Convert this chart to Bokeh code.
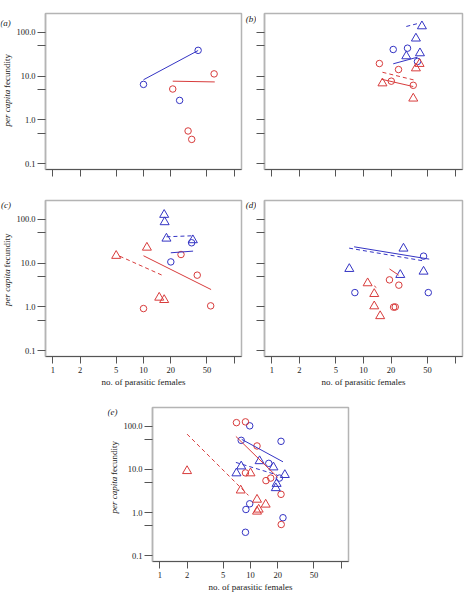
import math
from bokeh.plotting import figure
from bokeh.layouts import column, row
from bokeh.models import Spacer, FixedTicker, CustomJSTickFormatter, Range1d
from bokeh.core.properties import value
from bokeh.embed import file_html
from bokeh.resources import INLINE

# ---------------- data ----------------
XTICKS = [1, 2, 5, 10, 20, 50, 100]
XTICK_LABELS = ["1", "2", "5", "10", "20", "50", ""]
YTICKS = [0.1, 0.5, 1, 5, 10, 50, 100]
YTICK_LABELS = ["0.1", "", "1.0", "", "10.0", "", "100.0"]
X_LIMITS = [1, 100]
Y_LIMITS = [0.1, 200]
X_TITLE = "no. of parasitic females"
Y_TITLE_ITALIC = "per capita"
Y_TITLE_REST = "fecundity"

# panel (a)
A_BLUE_CIRC_X = [10, 40, 25]
A_BLUE_CIRC_Y = [6.5, 39, 2.8]
A_RED_CIRC_X = [21, 60, 31, 34]
A_RED_CIRC_Y = [5.1, 11.3, 0.56, 0.36]
A_BLUE_FIT_X = [10, 40]
A_BLUE_FIT_Y = [8.3, 38.7]
A_RED_FIT_X = [21, 61]
A_RED_FIT_Y = [7.7, 7.4]

# panel (b)
B_BLUE_TRI_X = [43.4, 37.3, 29.3, 41.3]
B_BLUE_TRI_Y = [139, 73, 28.7, 33.6]
B_BLUE_CIRC_X = [21.1, 30.2, 38.8]
B_BLUE_CIRC_Y = [40.8, 43.7, 21.7]
B_RED_CIRC_X = [14.9, 24.1, 20.1, 34.9]
B_RED_CIRC_Y = [19.5, 14.2, 7.7, 6.2]
B_RED_TRI_X = [16.1, 37.3, 40.9, 34.9]
B_RED_TRI_Y = [6.9, 15.2, 19.2, 3.1]
B_BLUE_DASH_X = [29.3, 38.3]
B_BLUE_DASH_Y = [137, 158]
B_BLUE_FIT_X = [21.1, 38.8]
B_BLUE_FIT_Y = [19.2, 27.2]
B_RED_DASH_X = [16.1, 37.3]
B_RED_DASH_Y = [12.3, 8.0]
B_RED_FIT_X = [15.8, 34.9]
B_RED_FIT_Y = [8.5, 5.8]

# panel (c)
C_BLUE_TRI_X = [16.9, 17.1, 17.9, 35]
C_BLUE_TRI_Y = [128, 87, 36.7, 33.7]
C_BLUE_CIRC_X = [20, 33.9]
C_BLUE_CIRC_Y = [10.7, 29.3]
C_RED_TRI_X = [5.0, 10.9, 14.9, 16.9]
C_RED_TRI_Y = [14.8, 22.8, 1.64, 1.45]
C_RED_CIRC_X = [10, 25.9, 39.1, 55]
C_RED_CIRC_Y = [0.92, 15.8, 5.33, 1.06]
C_BLUE_DASH_X = [17.9, 35.2]
C_BLUE_DASH_Y = [40.2, 42.4]
C_BLUE_FIT_X = [20, 35.2]
C_BLUE_FIT_Y = [17.3, 18.9]
C_RED_DASH_X = [5.46, 16.1]
C_RED_DASH_Y = [14.5, 5.3]
C_RED_FIT_X = [10, 55.6]
C_RED_FIT_Y = [14.8, 2.5]

# panel (d)
D_BLUE_TRI_X = [7.0, 27.3, 25.2, 45.2]
D_BLUE_TRI_Y = [7.43, 21.7, 5.42, 6.45]
D_BLUE_CIRC_X = [8.05, 45.2, 50.9]
D_BLUE_CIRC_Y = [2.13, 14.5, 2.13]
D_RED_TRI_X = [11.1, 13.1, 13.1, 15.2]
D_RED_TRI_Y = [3.5, 1.99, 1.04, 0.62]
D_RED_CIRC_X = [19.2, 24.3, 21.3, 22.2]
D_RED_CIRC_Y = [4.16, 3.15, 0.99, 1.0]
D_BLUE_FIT_X = [7.9, 52.1]
D_BLUE_FIT_Y = [23.7, 12.4]
D_BLUE_DASH_X = [6.97, 45.2]
D_BLUE_DASH_Y = [22.1, 11.3]
D_RED_FIT_X = [19.2, 24.2]
D_RED_FIT_Y = [7.4, 5.33]
D_RED_DASH_X = [13.1, 13.8]
D_RED_DASH_Y = [3.03, 2.77]

# panel (e)
E_RED_CIRC_X = [7.0, 8.8, 11.8, 8.8, 14.8, 16.7, 21.7, 21.8]
E_RED_CIRC_Y = [121, 126, 34.9, 8.3, 5.5, 6.3, 2.65, 0.53]
E_BLUE_CIRC_X = [9.8, 7.9, 21.7, 15.9, 20.8, 9.8, 8.9, 22.8, 8.8]
E_BLUE_CIRC_Y = [102, 47.1, 44.7, 13.8, 6.3, 1.6, 1.18, 0.76, 0.35]
E_BLUE_TRI_X = [7.0, 7.9, 12.6, 17.9, 23.9, 19.4, 19.0]
E_BLUE_TRI_Y = [8.15, 11.8, 15.6, 11.2, 7.46, 4.65, 3.7]
E_RED_TRI_X = [2.0, 7.8, 10.0, 11.8, 12.3, 11.8, 14.7]
E_RED_TRI_Y = [9.2, 3.27, 8.15, 2.0, 1.18, 1.06, 1.54]
E_BLUE_FIT_X = [8.0, 22.8]
E_BLUE_FIT_Y = [49.6, 15.0]
E_RED_FIT_X = [6.9, 20.0]
E_RED_FIT_Y = [58, 6.5]
E_BLUE_DASH_X = [6.9, 19.5]
E_BLUE_DASH_Y = [14.5, 7.5]
E_RED_DASH_X = [2.0, 9.5]
E_RED_DASH_Y = [65.6, 2.5]

# ---------------- style ----------------
BLUE = "#3434c4"
RED = "#d83c3c"
FONT = "Liberation Serif"
TXT = "#222222"
AXIS_DARK = "#555555"
FRAME_GREY = "#b4b4b4"
DASH = "4 3"

FW = 198
FH = 156
STRIP_W = 13
LEFT_WITH_LABELS = 30
LEFT_NO_LABELS = 8


def padded(lims):
    lo, hi = math.log10(lims[0]), math.log10(lims[1])
    pad = 0.04 * (hi - lo)
    return 10 ** (lo - pad), 10 ** (hi + pad)


XR = padded(X_LIMITS)
YR = padded(Y_LIMITS)


def formatter(ticks, labels):
    return CustomJSTickFormatter(args=dict(t=ticks, l=labels),
                                 code="const i = t.indexOf(tick); return i < 0 ? '' : l[i];")


def strip(height, letter, letter_cx, letter_cy, ylab, frame_top):
    """Narrow text-only figure holding the panel letter and the y title."""
    s = figure(width=STRIP_W, height=height, x_range=Range1d(0, STRIP_W),
               y_range=Range1d(0, height), output_backend="svg", toolbar_location=None,
               min_border=0, min_border_left=0, min_border_right=0,
               min_border_top=0, min_border_bottom=0)
    s.axis.visible = False
    s.xgrid.visible = False
    s.ygrid.visible = False
    s.outline_line_color = None
    s.background_fill_color = None
    s.border_fill_color = None
    s.text(x=[letter_cx], y=[height - letter_cy], text=["(" + letter + ")"],
           text_font=value(FONT), text_font_size=value("9px"), text_font_style="italic",
           text_color=TXT, text_align="center", text_baseline="middle")
    if ylab:
        centre = frame_top + FH / 2
        s.text(x=[6.5], y=[height - (centre - 0.45)], text=[Y_TITLE_ITALIC],
               text_font=value(FONT), text_font_size=value("9px"), text_font_style="italic",
               text_color=TXT, text_align="right", text_baseline="middle", angle=math.pi / 2)
        s.text(x=[6.5], y=[height - (centre - 2.7)], text=[Y_TITLE_REST],
               text_font=value(FONT), text_font_size=value("9px"), text_font_style="normal",
               text_color=TXT, text_align="left", text_baseline="middle", angle=math.pi / 2)
    return s


def make_panel(top, bottom, xlab, ylab, circles, triangles, fits, dashes):
    left = LEFT_WITH_LABELS if ylab else LEFT_NO_LABELS
    width = left + FW + 2
    height = top + FH + bottom
    p = figure(width=width, height=height, x_axis_type="log", y_axis_type="log",
               x_range=Range1d(*XR), y_range=Range1d(*YR),
               output_backend="svg", toolbar_location=None,
               min_border_left=left, min_border_right=2,
               min_border_top=top, min_border_bottom=bottom)
    p.xgrid.visible = False
    p.ygrid.visible = False
    p.outline_line_color = FRAME_GREY
    p.outline_line_width = 1.5
    p.background_fill_color = "white"
    p.border_fill_color = None

    xa = p.xaxis[0]
    xa.ticker = FixedTicker(ticks=XTICKS, minor_ticks=[])
    xa.formatter = formatter(XTICKS, XTICK_LABELS if xlab else [""] * len(XTICKS))
    xa.major_tick_out = 7
    xa.major_tick_in = 0
    xa.minor_tick_out = 0
    xa.minor_tick_in = 0
    xa.axis_line_color = AXIS_DARK
    xa.major_tick_line_color = AXIS_DARK
    xa.major_label_text_font = FONT
    xa.major_label_text_font_size = "8.5px" if xlab else "0px"
    xa.major_label_text_color = TXT
    xa.major_label_standoff = 3 if xlab else 0
    if xlab:
        xa.axis_label = X_TITLE
        xa.axis_label_text_font = FONT
        xa.axis_label_text_font_style = "normal"
        xa.axis_label_text_font_size = "9px"
        xa.axis_label_text_color = TXT
        xa.axis_label_standoff = 1

    ya = p.yaxis[0]
    ya.ticker = FixedTicker(ticks=YTICKS, minor_ticks=[])
    ya.formatter = formatter(YTICKS, YTICK_LABELS if ylab else [""] * len(YTICKS))
    ya.major_tick_out = 8
    ya.major_tick_in = 0
    ya.minor_tick_out = 0
    ya.minor_tick_in = 0
    ya.axis_line_color = FRAME_GREY
    ya.axis_line_width = 1.5
    ya.major_tick_line_color = AXIS_DARK
    ya.major_label_text_font = FONT
    ya.major_label_text_font_size = "8.5px" if ylab else "0px"
    ya.major_label_text_color = TXT
    ya.major_label_standoff = 2 if ylab else 0

    for (x, y, c) in circles:
        p.scatter(x, y, marker="circle", size=6.5, fill_color=None, line_color=c, line_width=1)
    for (x, y, c) in triangles:
        p.scatter(x, y, marker="triangle", size=9, fill_color=None, line_color=c, line_width=1)
    for (x, y, c) in fits:
        p.line(x, y, line_color=c, line_width=1)
    for (x, y, c) in dashes:
        p.line(x, y, line_color=c, line_width=1, line_dash=DASH)
    return p


ROW1_TOP, ROW1_BOTTOM = 13, 16
ROW2_TOP, ROW2_BOTTOM = 15, 39
ROW3_TOP, ROW3_BOTTOM = 12, 31
H1 = ROW1_TOP + FH + ROW1_BOTTOM
H2 = ROW2_TOP + FH + ROW2_BOTTOM
H3 = ROW3_TOP + FH + ROW3_BOTTOM

pa = make_panel(ROW1_TOP, ROW1_BOTTOM, False, True,
                [(A_BLUE_CIRC_X, A_BLUE_CIRC_Y, BLUE), (A_RED_CIRC_X, A_RED_CIRC_Y, RED)],
                [],
                [(A_BLUE_FIT_X, A_BLUE_FIT_Y, BLUE), (A_RED_FIT_X, A_RED_FIT_Y, RED)],
                [])
pb = make_panel(ROW1_TOP, ROW1_BOTTOM, False, False,
                [(B_BLUE_CIRC_X, B_BLUE_CIRC_Y, BLUE), (B_RED_CIRC_X, B_RED_CIRC_Y, RED)],
                [(B_BLUE_TRI_X, B_BLUE_TRI_Y, BLUE), (B_RED_TRI_X, B_RED_TRI_Y, RED)],
                [(B_BLUE_FIT_X, B_BLUE_FIT_Y, BLUE), (B_RED_FIT_X, B_RED_FIT_Y, RED)],
                [(B_BLUE_DASH_X, B_BLUE_DASH_Y, BLUE), (B_RED_DASH_X, B_RED_DASH_Y, RED)])
pc = make_panel(ROW2_TOP, ROW2_BOTTOM, True, True,
                [(C_BLUE_CIRC_X, C_BLUE_CIRC_Y, BLUE), (C_RED_CIRC_X, C_RED_CIRC_Y, RED)],
                [(C_BLUE_TRI_X, C_BLUE_TRI_Y, BLUE), (C_RED_TRI_X, C_RED_TRI_Y, RED)],
                [(C_BLUE_FIT_X, C_BLUE_FIT_Y, BLUE), (C_RED_FIT_X, C_RED_FIT_Y, RED)],
                [(C_BLUE_DASH_X, C_BLUE_DASH_Y, BLUE), (C_RED_DASH_X, C_RED_DASH_Y, RED)])
pd_ = make_panel(ROW2_TOP, ROW2_BOTTOM, True, False,
                 [(D_BLUE_CIRC_X, D_BLUE_CIRC_Y, BLUE), (D_RED_CIRC_X, D_RED_CIRC_Y, RED)],
                 [(D_BLUE_TRI_X, D_BLUE_TRI_Y, BLUE), (D_RED_TRI_X, D_RED_TRI_Y, RED)],
                 [(D_BLUE_FIT_X, D_BLUE_FIT_Y, BLUE), (D_RED_FIT_X, D_RED_FIT_Y, RED)],
                 [(D_BLUE_DASH_X, D_BLUE_DASH_Y, BLUE), (D_RED_DASH_X, D_RED_DASH_Y, RED)])
pe = make_panel(ROW3_TOP, ROW3_BOTTOM, True, True,
                [(E_BLUE_CIRC_X, E_BLUE_CIRC_Y, BLUE), (E_RED_CIRC_X, E_RED_CIRC_Y, RED)],
                [(E_BLUE_TRI_X, E_BLUE_TRI_Y, BLUE), (E_RED_TRI_X, E_RED_TRI_Y, RED)],
                [(E_BLUE_FIT_X, E_BLUE_FIT_Y, BLUE), (E_RED_FIT_X, E_RED_FIT_Y, RED)],
                [(E_BLUE_DASH_X, E_BLUE_DASH_Y, BLUE), (E_RED_DASH_X, E_RED_DASH_Y, RED)])

sa = strip(H1, "a", 5, 11.5, True, ROW1_TOP)
sb = strip(H1, "b", 7.5, 6.5, False, ROW1_TOP)
sc = strip(H2, "c", 5.5, 5.5, True, ROW2_TOP)
sd = strip(H2, "d", 7.5, 5.5, False, ROW2_TOP)
se = strip(H3, "e", 5, 6, True, ROW3_TOP)

layout = column(row(sa, pa, sb, pb),
                row(sc, pc, sd, pd_),
                row(Spacer(width=107, height=H3), se, pe))

open("out.html", "w").write(file_html(layout, INLINE))
